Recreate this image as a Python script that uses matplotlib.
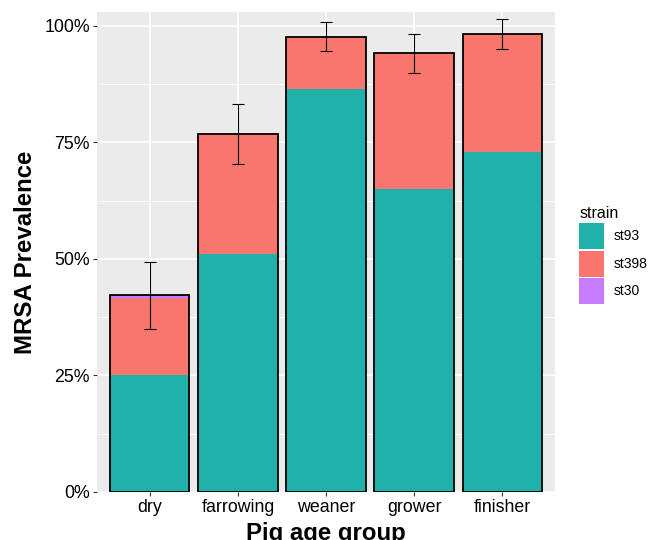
import numpy as np
import matplotlib
matplotlib.use("Agg")
import matplotlib.pyplot as plt
from matplotlib.ticker import FuncFormatter, MultipleLocator
from matplotlib.patches import Patch

plt.rcParams['font.family'] = ['Liberation Sans', 'DejaVu Sans']

# data (fractions)
groups = ["dry", "farrowing", "weaner", "grower", "finisher"]
st93 = [0.250, 0.510, 0.865, 0.649, 0.730]
st398 = [0.166, 0.259, 0.112, 0.292, 0.253]
st30 = [0.006, 0.0, 0.0, 0.0, 0.0]
err_lo = [0.350, 0.703, 0.947, 0.900, 0.951]
err_hi = [0.494, 0.832, 1.008, 0.983, 1.015]

teal = "#20B2AA"
salmon = "#F8766D"
purple = "#C77CFF"

fig = plt.figure(figsize=(6.59, 5.4), dpi=100)
ax = fig.add_axes([0.1472, 0.0894, 0.6950, 0.8884])
ax.set_facecolor("#EBEBEB")

x = np.arange(1, len(groups) + 1)
w = 0.9
a = np.array(st93)
b = np.array(st398)
c = np.array(st30)
ax.bar(x, a, w, color=teal, linewidth=0, zorder=2)
ax.bar(x, b, w, bottom=a, color=salmon, linewidth=0, zorder=2)
ax.bar(x, c, w, bottom=a + b, color=purple, linewidth=0, zorder=2)
ax.bar(x, a + b + c, w, fill=False, edgecolor="black", linewidth=1.3, zorder=3)

lo = np.array(err_lo)
hi = np.array(err_hi)
mid = (lo + hi) / 2
ax.errorbar(x, mid, yerr=[mid - lo, hi - mid], fmt="none", ecolor="black",
            elinewidth=0.8, capsize=4.5, capthick=0.8, zorder=4)

ax.set_xlim(0.4, 5.6)
ax.set_ylim(0, 1.030)
ax.set_xticks(x)
ax.set_xticklabels(groups)
ax.yaxis.set_major_locator(MultipleLocator(0.25))
ax.yaxis.set_minor_locator(MultipleLocator(0.125))
ax.yaxis.set_major_formatter(FuncFormatter(lambda v, p: f"{v*100:.0f}%"))

ax.grid(which="major", color="white", linewidth=1.1, zorder=0)
ax.grid(which="minor", axis="y", color="white", linewidth=0.55, zorder=0)
ax.set_axisbelow(True)
for s in ax.spines.values():
    s.set_visible(False)
ax.tick_params(axis="both", which="major", length=3, width=0.8, color="#333333",
               labelsize=12.8, labelcolor="black", pad=2)
ax.tick_params(axis="y", which="minor", length=0)

ax.set_xlabel("Pig age group", fontsize=17.3, fontweight="bold", labelpad=4.5)
ax.set_ylabel("MRSA Prevalence", fontsize=17.3, fontweight="bold", labelpad=5)

handles = [Patch(facecolor=teal, edgecolor="none"),
           Patch(facecolor=salmon, edgecolor="none"),
           Patch(facecolor=purple, edgecolor="none")]
leg = fig.legend(handles, ["st93", "st398", "st30"], title="strain",
                 loc="upper left", bbox_to_anchor=(0.879, 0.618),
                 frameon=False, fontsize=10, title_fontsize=11.5,
                 handlelength=1.8, handleheight=2.5, labelspacing=0.12,
                 handletextpad=0.7, borderaxespad=0, borderpad=0)
leg._legend_box.align = "left"

fig.savefig("out.png", dpi=100)
